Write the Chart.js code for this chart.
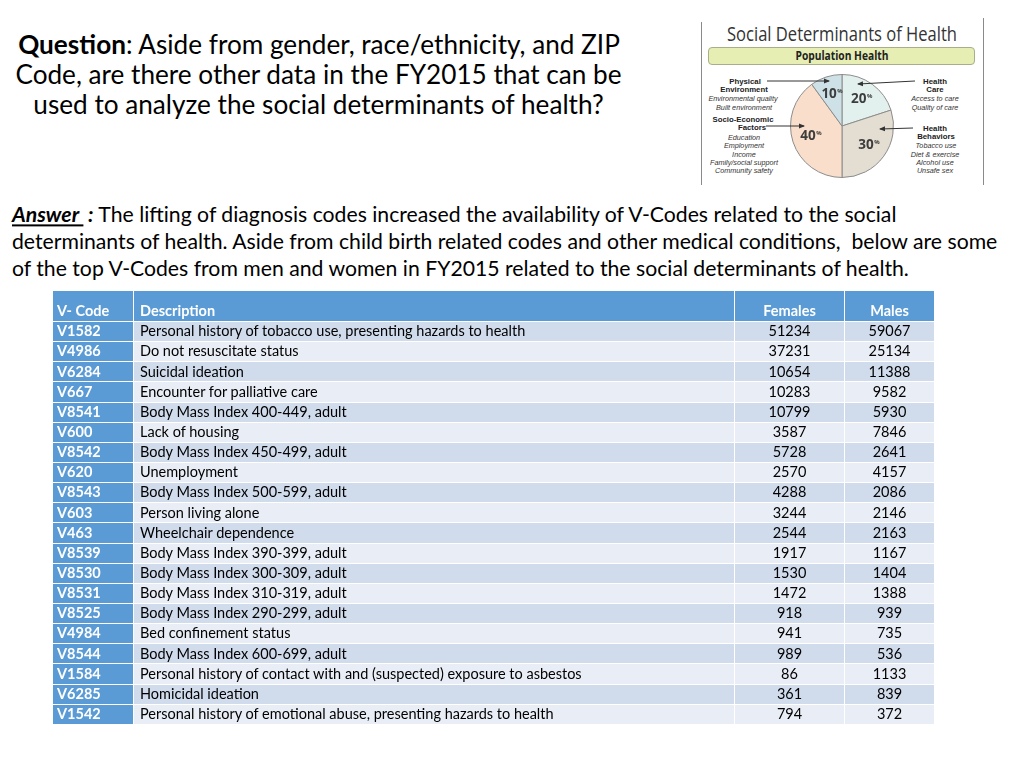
<!DOCTYPE html>
<html><head><meta charset="utf-8">
<script src="https://cdn.jsdelivr.net/npm/chart.js@4.4.0/dist/chart.umd.min.js"></script>
<style>
body{margin:0;width:1024px;height:768px;background:#fff;position:relative;overflow:hidden;font-family:Lato,"Open Sans",sans-serif;color:#000;}
.abs{position:absolute;white-space:pre;line-height:1;}
.c{transform:translate(-50%,-50%);}
.l{transform:translate(0,-50%);}
#tbl{position:absolute;left:52px;top:290px;width:882px;border-collapse:collapse;table-layout:fixed;font-family:Lato,sans-serif;}
#tbl td,#tbl th{border:1.5px solid #fff;padding:0;white-space:nowrap;overflow:hidden;line-height:1;}
#tbl tr.h{height:31px;}
#tbl tr.h th{background:#5b9bd5;color:#fff;font-weight:bold;vertical-align:bottom;padding-bottom:3px;text-align:left;}
#tbl tr.r{height:20.15px;}
#tbl td.code{background:#5b9bd5;color:#fff;font-weight:bold;padding-left:4px;}
#tbl td.desc{padding-left:6px;}
#tbl td.num{text-align:center;}
#tbl tr.odd td.d{background:#d0dbec;}
#tbl tr.even td.d{background:#e9edf5;}
.pl{font-family:"Open Sans",sans-serif;color:#222;}
.sl{font-family:"Liberation Sans",Arial,sans-serif;}
.pb{font-weight:bold;color:#222;}
.pi{font-style:italic;color:#333;}
</style></head><body>

<div id="q1" class="abs c qline" style="left:319px;top:44px;"><b>Question</b>: Aside from gender, race/ethnicity, and ZIP</div>
<div id="q2" class="abs c qline" style="left:318.5px;top:74px;">Code, are there other data in the FY2015 that can be</div>
<div id="q3" class="abs c qline" style="left:318.5px;top:104px;">used to analyze the social determinants of health?</div>

<div id="a1" class="abs l aline" style="left:12px;top:215px;"><b><i><u>Answer </u> :</i></b> The lifting of diagnosis codes increased the availability of V-Codes related to the social</div>
<div id="a2" class="abs l aline" style="left:12px;top:242px;">determinants of health. Aside from child birth related codes and other medical conditions,  below are some</div>
<div id="a3" class="abs l aline" style="left:12px;top:269px;">of the top V-Codes from men and women in FY2015 related to the social determinants of health.</div>

<!-- pie figure -->
<div style="position:absolute;left:701px;top:22px;width:1px;height:163px;background:#8a8a8a;"></div>
<div style="position:absolute;left:983px;top:18px;width:1px;height:167px;background:#8a8a8a;"></div>
<div id="ptitle" class="abs pl" style="left:842px;top:34px;color:#333;">Social Determinants of Health</div>
<div style="position:absolute;left:708px;top:47px;width:267px;height:18px;background:#e6eeb4;border:1px solid #a9ae8a;border-radius:4px;box-sizing:border-box;"></div>
<div id="phealth" class="abs pl pb" style="left:842px;top:56px;">Population Health</div>

<div class="abs sl pb plab" style="left:745px;top:81px;">Physical</div>
<div class="abs sl pb plab" style="left:744px;top:89px;">Environment</div>
<div class="abs sl pi pit" style="left:743px;top:98px;">Environmental quality</div>
<div class="abs sl pi pit" style="left:744px;top:107px;">Built environment</div>
<div class="abs sl pb plab" style="left:743px;top:119px;">Socio-Economic</div>
<div class="abs sl pb plab" style="left:752px;top:127px;">Factors</div>
<div class="abs sl pi pit" style="left:744px;top:137px;">Education</div>
<div class="abs sl pi pit" style="left:744px;top:145px;">Employment</div>
<div class="abs sl pi pit" style="left:744px;top:154px;">Income</div>
<div class="abs sl pi pit" style="left:744px;top:162px;">Family/social support</div>
<div class="abs sl pi pit" style="left:744px;top:170px;">Community safety</div>

<div class="abs sl pb plab" style="left:935px;top:81px;">Health</div>
<div class="abs sl pb plab" style="left:935px;top:89px;">Care</div>
<div class="abs sl pi pit" style="left:935px;top:98px;">Access to care</div>
<div class="abs sl pi pit" style="left:935px;top:107px;">Quality of care</div>
<div class="abs sl pb plab" style="left:935px;top:128px;">Health</div>
<div class="abs sl pb plab" style="left:936px;top:136px;">Behaviors</div>
<div class="abs sl pi pit" style="left:936px;top:145px;">Tobacco use</div>
<div class="abs sl pi pit" style="left:935px;top:154px;">Diet &amp; exercise</div>
<div class="abs sl pi pit" style="left:935px;top:162px;">Alcohol use</div>
<div class="abs sl pi pit" style="left:935px;top:170px;">Unsafe sex</div>

<div style="position:absolute;left:788px;top:72px;width:108px;height:108px;"><canvas id="pie"></canvas></div>

<svg style="position:absolute;left:0;top:0;" width="1024" height="768">
<defs><marker id="ah" markerWidth="6" markerHeight="6" refX="5" refY="3" orient="auto" markerUnits="userSpaceOnUse"><path d="M0,0.5 L6,3 L0,5.5 z" fill="#333"/></marker></defs>
<g stroke="#333" stroke-width="1" fill="none">
<line x1="767" y1="81" x2="829" y2="81" marker-end="url(#ah)"/>
<line x1="915" y1="81" x2="858" y2="84" marker-end="url(#ah)"/>
<line x1="766" y1="126" x2="804" y2="126" marker-end="url(#ah)"/>
<line x1="913" y1="128" x2="880" y2="129" marker-end="url(#ah)"/>
</g></svg>

<table id="tbl"></table>

<script>
// ---- pie data ----
const pieLabels = ['Health Care','Health Behaviors','Socio-Economic Factors','Physical Environment'];
const pieValues = [20, 30, 40, 10];
const pieColors = ['#e3f1ee','#e4ddd1','#f9dfcb','#cde1e7'];

// ---- table data ----
const tableHeaders = ['V- Code','Description','Females','Males'];
const codes = ['V1582','V4986','V6284','V667','V8541','V600','V8542','V620','V8543','V603','V463','V8539','V8530','V8531','V8525','V4984','V8544','V1584','V6285','V1542'];
const descriptions = [
 'Personal history of tobacco use, presenting hazards to health',
 'Do not resuscitate status',
 'Suicidal ideation',
 'Encounter for palliative care',
 'Body Mass Index 400-449, adult',
 'Lack of housing',
 'Body Mass Index 450-499, adult',
 'Unemployment',
 'Body Mass Index 500-599, adult',
 'Person living alone',
 'Wheelchair dependence',
 'Body Mass Index 390-399, adult',
 'Body Mass Index 300-309, adult',
 'Body Mass Index 310-319, adult',
 'Body Mass Index 290-299, adult',
 'Bed confinement status',
 'Body Mass Index 600-699, adult',
 'Personal history of contact with and (suspected) exposure to asbestos',
 'Homicidal ideation',
 'Personal history of emotional abuse, presenting hazards to health'];
const females = [51234,37231,10654,10283,10799,3587,5728,2570,4288,3244,2544,1917,1530,1472,918,941,989,86,361,794];
const males   = [59067,25134,11388,9582,5930,7846,2641,4157,2086,2146,2163,1167,1404,1388,939,735,536,1133,839,372];

// ---- font fitting helpers ----
const mc = document.createElement('canvas').getContext('2d');
function widthAt(text, style, family, size){ mc.font = style + ' ' + size + 'px ' + family; return mc.measureText(text).width; }
function sizeFor(text, style, family, target){ return 100 * target / widthAt(text, style, family, 100); }
function applySize(sel, size){ document.querySelectorAll(sel).forEach(e=>e.style.fontSize = size+'px'); }
function applySqueeze(sel, refText, style, family, fs, target){
  const k = target / widthAt(refText, style, family, fs);
  document.querySelectorAll(sel).forEach(e=>{
    e.style.fontSize = fs + 'px';
    e.style.transform = 'translate(-50%,-50%) scaleX(' + k + ')';
  });
}

applySize('.qline', sizeFor('Code, are there other data in the FY2015 that can be','normal','Lato',607));
applySize('.aline', sizeFor('determinants of health. Aside from child birth related codes and other medical conditions,  below are some','normal','Lato',988));
applySqueeze('#ptitle', 'Social Determinants of Health', 'normal', '"Open Sans"', 20, 230);
applySqueeze('#phealth', 'Population Health', 'bold', '"Open Sans"', 11.5, 93);
applySqueeze('.plab', 'Socio-Economic', 'bold', '"Liberation Sans"', 7, 61);
applySqueeze('.pit', 'Family/social support', 'italic', '"Liberation Sans"', 7, 68);

// ---- build table ----
const tbl = document.getElementById('tbl');
tbl.style.fontSize = sizeFor(descriptions[0],'normal','Lato',386) + 'px';
const colW = [81, 601, 110, 90];
let html = '<colgroup>' + colW.map(w=>'<col style="width:'+w+'px">').join('') + '</colgroup>';
html += '<tr class="h">' + tableHeaders.map((h,i)=>'<th style="'+(i===0?'padding-left:4px;':i===1?'padding-left:6px;':'text-align:center;')+'">'+h+'</th>').join('') + '</tr>';
codes.forEach((c,i)=>{
  html += '<tr class="r '+(i%2===0?'odd':'even')+'"><td class="code">'+c+'</td><td class="desc d">'+descriptions[i]+'</td><td class="num d">'+females[i]+'</td><td class="num d">'+males[i]+'</td></tr>';
});
tbl.innerHTML = html;

// ---- pie chart ----
const pctLabels = {
  id:'pctLabels',
  afterDatasetsDraw(chart){
    const ctx = chart.ctx;
    const meta = chart.getDatasetMeta(0);
    meta.data.forEach((arc,i)=>{
      const p = arc.getProps(['x','y','startAngle','endAngle','outerRadius'], true);
      const mid = (p.startAngle + p.endAngle)/2;
      const r = p.outerRadius * 0.64;
      const x = p.x + Math.cos(mid)*r, y = p.y + Math.sin(mid)*r;
      const num = String(pieValues[i]);
      ctx.save();
      ctx.fillStyle = '#3d3d3d';
      ctx.textBaseline = 'middle';
      ctx.textAlign = 'left';
      ctx.font = 'bold 13.5px "Open Sans"';
      const w1 = ctx.measureText(num).width;
      ctx.font = 'bold 6px "Open Sans"';
      const w2 = ctx.measureText('%').width;
      const x0 = x - (w1 + w2)/2;
      ctx.font = 'bold 13.5px "Open Sans"';
      ctx.fillText(num, x0, y);
      ctx.font = 'bold 6px "Open Sans"';
      ctx.fillText('%', x0 + w1 + 0.5, y - 3);
      ctx.restore();
    });
  }
};
new Chart(document.getElementById('pie'), {
  type:'pie',
  data:{labels:pieLabels, datasets:[{data:pieValues, backgroundColor:pieColors, borderColor:'#8c8c8c', borderWidth:1}]},
  options:{responsive:true, maintainAspectRatio:false, animation:false, layout:{padding:2},
    plugins:{legend:{display:false}, tooltip:{enabled:false}}},
  plugins:[pctLabels]
});
</script>
</body></html>
